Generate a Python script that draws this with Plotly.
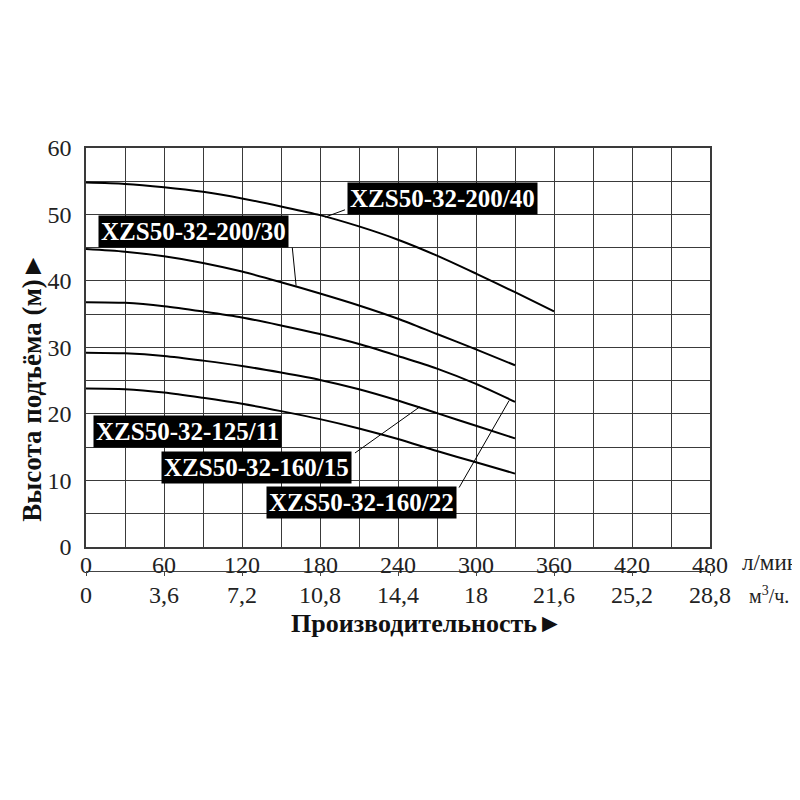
import plotly.graph_objects as go

# расход, л/мин
flow = [0, 30, 60, 90, 120, 150, 180, 210, 240, 270, 300, 330]
flow_40 = flow + [360]

# напор, м
head_200_40 = [54.8, 54.6, 54.1, 53.4, 52.4, 51.2, 49.9, 48.2, 46.2, 43.8, 41.1, 38.3, 35.4]
head_200_30 = [44.8, 44.4, 43.7, 42.7, 41.4, 39.8, 38.1, 36.3, 34.3, 32.0, 29.7, 27.3]
head_160_22 = [36.8, 36.7, 36.2, 35.4, 34.5, 33.3, 32.0, 30.5, 28.7, 26.8, 24.5, 21.8]
head_160_15 = [29.2, 29.1, 28.7, 28.0, 27.2, 26.2, 25.1, 23.7, 22.0, 20.1, 18.2, 16.3]
head_125_11 = [23.8, 23.7, 23.2, 22.4, 21.5, 20.4, 19.2, 17.8, 16.2, 14.4, 12.7, 11.0]

lpm_ticks = [0, 60, 120, 180, 240, 300, 360, 420, 480]
m3h_ticks = [0, 3.6, 7.2, 10.8, 14.4, 18, 21.6, 25.2, 28.8]
m3h_text = ['0', '3,6', '7,2', '10,8', '14,4', '18', '21,6', '25,2', '28,8']

# подписи моделей: текст, центр рамки, выноска (x0, y0, x1, y1)
labels = [
    ('XZS50-32-200/40', 274.4, 52.4, (199.2, 50.7, 183.9, 49.6)),
    ('XZS50-32-200/30', 83.0, 47.4, (158.7, 45.0, 161.6, 39.3)),
    ('XZS50-32-125/11', 78.2, 17.35, None),
    ('XZS50-32-160/15', 131.4, 11.9, (206.9, 14.1, 256.8, 21.05)),
    ('XZS50-32-160/22', 211.8, 6.7, (287.0, 8.9, 325.5, 22.0)),
]

SERIF = 'Liberation Serif'
GRID = '#3a3a3a'

fig = go.Figure()

curves = [(flow_40, head_200_40), (flow, head_200_30), (flow, head_160_22),
          (flow, head_160_15), (flow, head_125_11)]
for xs, ys in curves:
    fig.add_trace(go.Scatter(x=xs, y=ys, mode='lines',
                             line=dict(color='black', width=2, shape='spline', smoothing=0.8),
                             showlegend=False, hoverinfo='skip'))

# пустой след для второй оси (м3/ч)
fig.add_trace(go.Scatter(x=[None], y=[None], xaxis='x2', showlegend=False,
                         hoverinfo='skip'))

for text, cx, cy, lead in labels:
    fig.add_annotation(x=cx, y=cy, xref='x', yref='y', text='<b>' + text + '</b>',
                       showarrow=False, bgcolor='black', borderpad=2,
                       font=dict(family=SERIF, size=25, color='white'))
    if lead:
        fig.add_shape(type='line', x0=lead[0], y0=lead[1], x1=lead[2], y1=lead[3],
                      xref='x', yref='y', line=dict(color='black', width=1))

fig.add_annotation(x=1.048, y=0.202, xref='paper', yref='paper', xanchor='left',
                   yanchor='middle', text='л/мин', showarrow=False,
                   font=dict(family=SERIF, size=23, color='#222'))
fig.add_annotation(x=1.06, y=0.14, xref='paper', yref='paper', xanchor='left',
                   yanchor='middle', text='м<sup>3</sup>/ч.', showarrow=False,
                   font=dict(family=SERIF, size=20, color='#222'))
fig.add_annotation(x=0.5465, y=0.0865, xref='paper', yref='paper', xanchor='center',
                   yanchor='middle', text='<b>Производительность►</b>', showarrow=False,
                   font=dict(family=SERIF, size=26, color='#111'))
fig.add_annotation(x=-0.0865, y=0.539, xref='paper', yref='paper', xanchor='center',
                   yanchor='middle', textangle=-90,
                   text='<b>Высота подъёма (м)►</b>', showarrow=False,
                   font=dict(family=SERIF, size=27, color='#111'))

fig.update_layout(
    width=800, height=800,
    margin=dict(l=78, r=98, t=140, b=140),
    paper_bgcolor='white', plot_bgcolor='white',
    font=dict(family=SERIF, size=24, color='#222'),
    xaxis=dict(range=[0, 480], tickvals=lpm_ticks, showgrid=True,
               gridcolor=GRID, gridwidth=1.3,
               minor=dict(dtick=30, showgrid=True, gridcolor=GRID, gridwidth=1.3),
               showline=True, linecolor=GRID, linewidth=1.5, mirror=True,
               ticks='', zeroline=False, automargin=False, ticklabelstandoff=-4),
    xaxis2=dict(range=[0, 28.8], tickvals=m3h_ticks, ticktext=m3h_text,
                overlaying='x', anchor='free', position=0.186, side='bottom',
                showline=True, linecolor='#444', linewidth=1.2,
                ticks='outside', ticklen=4, tickcolor='#444', showgrid=False,
                zeroline=False, automargin=False, ticklabelstandoff=-2),
    yaxis=dict(range=[0, 60], dtick=10, domain=[0.2333, 1], showgrid=True,
               gridcolor=GRID, gridwidth=1.3,
               minor=dict(dtick=5, showgrid=True, gridcolor=GRID, gridwidth=1.3),
               showline=True, linecolor=GRID, linewidth=1.5, mirror=True,
               ticks='', zeroline=False, automargin=False, ticklabelstandoff=8),
)

fig.write_html('out.html')
